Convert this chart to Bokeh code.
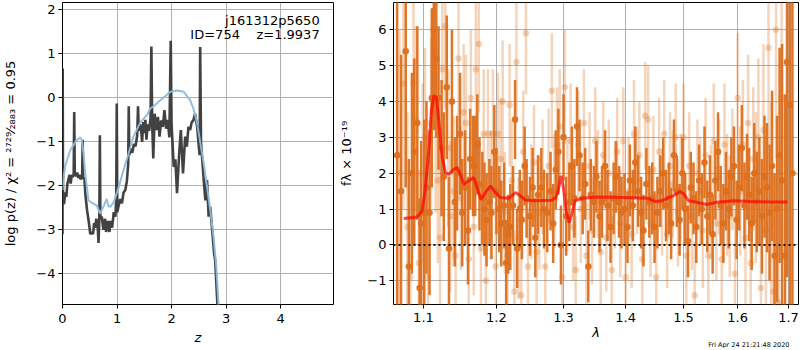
import numpy as np
from bokeh.plotting import figure
from bokeh.layouts import row
from bokeh.models import (ColumnDataSource, Label, Range1d, Span, FixedTicker, Title,
                          PrintfTickFormatter, CustomJSTickFormatter)
from bokeh.embed import file_html
from bokeh.resources import INLINE

FONT = "DejaVu Sans"

# ---------------- left panel: log p(z) ----------------
z_pz = [0.000, 0.003, 0.010, 0.03, 0.05, 0.07, 0.09, 0.11, 0.13, 0.15,
        0.17, 0.19, 0.205, 0.215, 0.225, 0.25, 0.27, 0.29, 0.31, 0.33,
        0.36, 0.37, 0.38, 0.40, 0.42, 0.45, 0.48, 0.51, 0.54, 0.56,
        0.58, 0.60, 0.62, 0.645, 0.66, 0.675, 0.685, 0.695, 0.72, 0.75,
        0.78, 0.80, 0.83, 0.86, 0.88, 0.91, 0.94, 0.97, 0.985, 0.995,
        1.005, 1.03, 1.06, 1.09, 1.12, 1.15, 1.18, 1.205, 1.215, 1.225,
        1.25, 1.28, 1.31, 1.34, 1.37, 1.385, 1.40, 1.42, 1.44, 1.46,
        1.48, 1.50, 1.52, 1.54, 1.56, 1.59, 1.615, 1.63, 1.645, 1.665,
        1.69, 1.72, 1.75, 1.78, 1.81, 1.84, 1.87, 1.90, 1.93, 1.96,
        1.985, 2.00, 2.04, 2.07, 2.10, 2.14, 2.17, 2.21, 2.25, 2.28,
        2.31, 2.34, 2.37, 2.40, 2.43, 2.47, 2.50, 2.515, 2.525, 2.54,
        2.59, 2.62, 2.65, 2.68, 2.71, 2.74, 2.78, 2.80, 2.84, 2.88]
logp_pz = [-3.10, 0.67, -2.40, -2.40, -2.15, -2.25, -1.95, -1.85, -1.75, -1.95,
           -1.75, -1.80, -1.75, -0.32, -1.72, -1.78, -1.70, -1.82, -1.75, -1.85,
           -1.80, -0.95, -1.85, -1.80, -2.20, -2.55, -2.80, -3.10, -3.05, -3.10,
           -2.85, -2.95, -2.75, -2.90, -3.30, -2.80, -0.85, -2.75, -2.70, -3.00,
           -2.75, -3.05, -2.80, -3.05, -2.80, -2.95, -2.60, -2.70, -2.30, -0.13,
           -2.60, -2.45, -2.30, -2.40, -2.15, -2.10, -1.90, -1.50, -0.19, -1.30,
           -1.15, -1.25, -1.05, -1.10, -0.85, -0.19, -0.75, -0.60, -0.70, -1.00,
           -0.55, -0.80, -0.50, -0.95, -0.60, -0.75, -0.45, 1.17, -0.60, -1.38,
           -0.36, -0.73, -0.43, -0.88, -0.51, -0.66, -0.28, -0.70, -0.50, -0.90,
           1.30, -0.60, -1.57, -1.40, -2.17, -1.27, -0.73, -1.72, -0.88, -1.11,
           -0.66, -0.73, -0.55, -0.51, -0.36, -0.66, -1.11, -1.30, 1.16, -1.00,
           -1.87, -2.33, -1.87, -2.70, -2.48, -2.93, -3.54, -3.69, -4.67, -5.60]

z_prior = [0.00, 0.02, 0.05, 0.08, 0.14, 0.20, 0.26, 0.325, 0.355, 0.386,
           0.416, 0.447, 0.477, 0.54, 0.63, 0.69, 0.75, 0.81, 0.84, 0.875,
           0.94, 1.03, 1.12, 1.21, 1.30, 1.43, 1.55, 1.61, 1.67, 1.79,
           1.98, 2.10, 2.22, 2.34, 2.40, 2.47, 2.53, 2.59, 2.65, 2.71,
           2.77, 2.82, 2.86, 2.89]
logp_prior = [-2.10, -1.80, -1.55, -1.43, -1.19, -1.08, -0.96, -0.90, -0.96, -1.27,
              -1.72, -2.03, -2.33, -2.39, -2.45, -2.63, -2.48, -2.30, -2.45, -2.48,
              -2.37, -2.03, -1.64, -1.27, -0.88, -0.55, -0.39, -0.24, -0.19, -0.06,
              0.14, 0.17, 0.14, -0.05, -0.24, -0.58, -1.04, -1.49, -2.02, -2.55,
              -3.16, -3.84, -4.67, -5.40]

z_ticks = [0, 1, 2, 3, 4]
logp_ticks = [-4, -3, -2, -1, 0, 1, 2]

# ---------------- right panel: spectrum ----------------
dark_lam_nm = [1066, 1071, 1077, 1081, 1085, 1088, 1092, 1095, 1097, 1101,
               1104, 1108, 1111, 1114, 1117, 1120, 1124, 1127, 1131, 1134,
               1138, 1142, 1145, 1149, 1152, 1156, 1160, 1163, 1167, 1170,
               1173, 1176, 1180, 1183, 1186, 1190, 1193, 1197, 1200, 1204,
               1207, 1211, 1214, 1217, 1220, 1224, 1227, 1230, 1234, 1237,
               1241, 1244, 1249, 1253, 1257, 1261, 1266, 1270, 1275, 1280,
               1284, 1288, 1292, 1296, 1300, 1304, 1309, 1313, 1317, 1321,
               1325, 1330, 1334, 1339, 1343, 1348, 1352, 1357, 1361, 1366,
               1370, 1375, 1380, 1384, 1389, 1393, 1398, 1403, 1407, 1412,
               1416, 1421, 1426, 1430, 1435, 1440, 1445, 1449, 1454, 1459,
               1464, 1469, 1474, 1478, 1483, 1488, 1493, 1498, 1503, 1508,
               1513, 1518, 1523, 1528, 1533, 1538, 1543, 1548, 1553, 1558,
               1563, 1568, 1573, 1578, 1583, 1588, 1593, 1598, 1603, 1608,
               1613, 1618, 1622, 1627, 1632, 1637, 1642, 1647, 1652, 1657,
               1662, 1667, 1672, 1677, 1682, 1687, 1693, 1697, 1703, 1708]
dark_flux = [2.5, 1.5, 5.4, -0.6, 2.0, 2.6, 3.4, -1.2, 0.6, 0.9,
             1.6, 0.9, 4.1, 6.0, 5.2, 4.1, 2.7, 1.9, 4.4, -0.1,
             4.0, 1.2, 2.0, 3.1, 0.9, 1.6, 0.4, 2.4, 2.2, 2.2,
             2.8, 1.7, 1.3, 1.0, 0.7, 1.2, 0.9, 2.6, 1.5, 1.0,
             0.6, 1.1, -0.5, 0.3, 0.5, 1.1, 3.5, -0.1, 1.0, 0.7,
             2.2, 1.3, 0.8, 1.6, 0.2, 1.4, 1.6, 1.0, 0.9, 1.5,
             0.6, 2.1, 2.6, 0.0, 3.0, 0.8, 1.2, 2.2, 1.3, 3.3,
             2.5, 1.3, 1.7, -0.6, 1.4, 1.2, 1.9, 0.8, 1.2, 2.2,
             1.1, 0.5, 1.3, 1.9, 1.2, 0.9, 1.0, 0.5, 1.8, 1.1,
             2.3, 1.5, 0.9, 0.4, 1.7, 1.2, 1.3, 0.5, 0.9, 1.5,
             2.0, 1.1, 1.3, 0.6, 2.5, 1.5, 0.7, 2.0, 1.0, 0.1,
             1.6, 1.3, 0.5, 1.8, 1.0, 2.3, 0.8, 1.4, 0.3, 1.8,
             2.6, 1.1, 0.6, 1.5, 1.0, 1.9, 2.2, 0.7, 1.6, 2.7,
             1.1, 1.9, 1.4, 0.6, 2.0, 1.2, 1.5, 0.8, 1.9, 1.6,
             0.9, 2.2, -0.3, 1.0, 2.5, 1.8, -0.3, 5.1, 3.9, 2.0]
dark_err = [4.5, 3.8, 3.8, 3.0, 2.8, 2.6, 2.7, 2.5, 2.3, 2.6,
            2.4, 2.3, 2.5, 2.8, 2.2, 2.0, 1.9, 1.8, 2.0, 2.0,
            2.0, 1.8, 1.6, 1.7, 1.5, 1.6, 1.5, 1.4, 1.4, 1.4,
            1.4, 1.3, 1.3, 1.3, 1.3, 1.2, 1.3, 1.3, 1.2, 1.2,
            1.2, 1.2, 1.2, 1.1, 1.2, 1.1, 1.1, 1.1, 1.1, 1.1,
            1.1, 1.1, 1.1, 1.1, 1.1, 1.1, 1.1, 1.1, 1.1, 1.1,
            1.1, 1.1, 1.2, 1.1, 1.2, 1.1, 1.1, 1.1, 1.1, 1.1,
            1.0, 1.0, 1.0, 1.0, 1.0, 1.0, 1.0, 1.0, 1.0, 1.0,
            1.0, 1.0, 1.0, 1.0, 1.0, 1.0, 1.0, 1.0, 1.0, 1.0,
            1.0, 1.0, 1.0, 1.0, 1.0, 1.0, 1.0, 1.0, 1.0, 1.0,
            1.0, 1.0, 1.0, 1.0, 1.0, 1.0, 1.0, 1.0, 1.0, 1.0,
            1.0, 1.0, 1.0, 1.0, 1.0, 1.0, 1.0, 1.1, 1.1, 1.1,
            1.1, 1.1, 1.1, 1.1, 1.1, 1.1, 1.1, 1.1, 1.2, 1.2,
            1.2, 1.2, 1.3, 1.3, 1.4, 1.4, 1.5, 1.6, 1.7, 1.8,
            1.9, 2.1, 2.3, 2.6, 3.0, 3.8, 4.5, 6.0, 8.0, 9.0]

light_lam_nm = [1069, 1074, 1079, 1083, 1087, 1090, 1094, 1099, 1102, 1106,
                1110, 1113, 1116, 1119, 1122, 1125, 1129, 1133, 1136, 1140,
                1143, 1147, 1150, 1154, 1157, 1161, 1164, 1168, 1171, 1175,
                1178, 1182, 1185, 1188, 1192, 1195, 1199, 1202, 1206, 1209,
                1212, 1216, 1219, 1222, 1226, 1229, 1232, 1236, 1239, 1243,
                1246, 1251, 1255, 1259, 1263, 1268, 1272, 1277, 1282, 1286,
                1290, 1294, 1298, 1302, 1306, 1311, 1315, 1319, 1323, 1327,
                1332, 1336, 1341, 1345, 1350, 1354, 1359, 1363, 1368, 1372,
                1377, 1382, 1386, 1391, 1396, 1400, 1405, 1410, 1414, 1419,
                1423, 1428, 1433, 1438, 1442, 1447, 1452, 1457, 1462, 1466,
                1471, 1476, 1481, 1486, 1490, 1495, 1500, 1505, 1510, 1515,
                1520, 1525, 1530, 1535, 1540, 1545, 1550, 1555, 1560, 1565,
                1570, 1575, 1580, 1585, 1590, 1595, 1600, 1605, 1610, 1615,
                1620, 1625, 1630, 1635, 1640, 1645, 1650, 1655, 1660, 1665,
                1670, 1675, 1680, 1686]
light_flux = [2.0, 4.5, 0.5, -0.9, 4.5, 3.5, -0.5, 2.0, 3.0, -0.9,
              3.4, 6.0, 3.3, 1.8, 0.2, 4.9, 6.1, 2.7, 0.8, 1.5,
              -0.3, 5.2, 1.3, 3.7, 3.4, -0.4, 4.1, 0.5, 4.9, 5.6,
              -0.1, 3.1, -1.0, 3.1, 1.4, 3.1, -0.6, 3.1, 2.4, 4.0,
              0.9, -0.3, 3.9, 1.8, -1.3, 5.1, 0.2, -1.4, 2.6, 5.9,
              -0.6, 1.2, 2.3, -0.2, 0.9, 1.9, -0.6, 2.2, 4.3, 1.5,
              2.8, 3.3, -0.9, 4.4, 1.4, 2.9, 0.5, -0.7, 2.8, 1.0,
              3.4, -0.3, 2.2, 0.4, 2.9, 1.7, -0.2, 2.5, 0.2, 2.0,
              -0.7, 1.4, 2.6, 0.6, 2.9, -0.9, 1.5, 0.3, 3.1, 1.8,
              2.5, -0.4, 3.6, 3.5, 0.6, 2.1, -0.9, 2.6, 1.2, 3.1,
              0.3, 2.2, 1.7, 3.0, 0.9, 1.6, 3.0, -0.3, 2.2, 0.8,
              -1.4, 2.0, 1.5, 0.4, 2.5, -0.3, 1.2, 2.9, 0.6, 1.9,
              -0.4, 2.8, 1.4, 0.8, 2.1, -0.8, 4.1, 1.5, 2.8, 0.2,
              3.4, -0.5, 2.4, 1.6, 3.0, -1.2, 3.2, 0.4, 5.5, 1.0,
              -1.3, 6.0, -1.6, 4.1]
light_err = [4.0, 3.5, 3.2, 3.0, 2.8, 2.6, 2.6, 2.5, 2.5, 2.4,
             2.4, 2.4, 2.4, 2.3, 2.2, 2.2, 2.3, 2.2, 2.1, 2.1,
             2.0, 2.0, 2.0, 1.9, 1.9, 1.9, 1.9, 1.9, 1.9, 1.9,
             1.8, 1.8, 1.8, 1.8, 1.8, 1.8, 1.8, 1.7, 1.7, 1.7,
             1.7, 1.7, 1.7, 1.7, 1.7, 1.7, 1.7, 1.7, 1.7, 1.7,
             1.6, 1.6, 1.6, 1.6, 1.6, 1.6, 1.6, 1.6, 1.6, 1.6,
             1.6, 1.6, 1.6, 1.6, 1.6, 1.6, 1.5, 1.5, 1.5, 1.5,
             1.5, 1.5, 1.5, 1.5, 1.5, 1.5, 1.5, 1.5, 1.5, 1.5,
             1.5, 1.5, 1.5, 1.5, 1.5, 1.5, 1.5, 1.5, 1.5, 1.5,
             1.5, 1.5, 1.5, 1.5, 1.5, 1.5, 1.5, 1.5, 1.5, 1.5,
             1.5, 1.5, 1.5, 1.5, 1.5, 1.5, 1.5, 1.5, 1.5, 1.5,
             1.5, 1.5, 1.5, 1.6, 1.6, 1.6, 1.6, 1.6, 1.6, 1.6,
             1.7, 1.7, 1.7, 1.7, 1.7, 1.8, 1.8, 1.8, 1.8, 1.9,
             1.9, 2.0, 2.0, 2.1, 2.2, 2.3, 2.4, 2.6, 2.8, 3.0,
             3.3, 3.6, 4.0, 4.5]

model_lam = [1.0745, 1.0916, 1.0982, 1.1026, 1.1070, 1.1105, 1.1136, 1.1172, 1.1203, 1.1247,
             1.1292, 1.1337, 1.1405, 1.1450, 1.1496, 1.1542, 1.1611, 1.1680, 1.1782, 1.1844,
             1.1915, 1.1987, 1.2058, 1.2178, 1.2276, 1.2349, 1.2422, 1.2546, 1.2819, 1.2880,
             1.2921, 1.2961, 1.2998, 1.3039, 1.3085, 1.3128, 1.3179, 1.3285, 1.3553, 1.3989,
             1.4385, 1.4499, 1.4616, 1.4733, 1.4820, 1.4938, 1.5000, 1.5089, 1.5239, 1.5423,
             1.5608, 1.5922, 1.6241, 1.6640, 1.6980]
model_flux = [0.74, 0.78, 0.95, 1.60, 2.62, 3.74, 4.16, 4.11, 3.46, 2.44,
              2.02, 1.97, 2.11, 2.16, 1.97, 1.69, 1.79, 1.88, 1.27, 1.46,
              1.65, 1.46, 1.32, 1.30, 1.46, 1.37, 1.25, 1.23, 1.25, 1.32,
              1.55, 1.93, 1.60, 0.95, 0.62, 0.86, 1.23, 1.30, 1.34, 1.32,
              1.30, 1.21, 1.23, 1.32, 1.37, 1.49, 1.43, 1.23, 1.19, 1.13,
              1.19, 1.23, 1.21, 1.20, 1.20]

lam_ticks = [1.1, 1.2, 1.3, 1.4, 1.5, 1.6, 1.7]
flux_ticks = [-1, 0, 1, 2, 3, 4, 5, 6]

object_name = "j161312p5650"
object_info = "ID=754\u00a0\u00a0\u00a0\u00a0z=1.9937"
timestamp = "Fri Apr 24 21:21:48 2020"

ORANGE = "#dc6f1e"
MINUS = CustomJSTickFormatter(code="return (tick < 0 ? '\\u2212' : '') + Math.abs(tick).toString();")


def style(p):
    p.outline_line_color = "black"
    p.outline_line_alpha = 1
    p.outline_line_width = 1
    p.background_fill_color = "white"
    p.border_fill_color = "white"
    for ax in (p.xaxis[0], p.yaxis[0]):
        ax.axis_line_color = None
        ax.major_tick_in = 0
        ax.major_tick_out = 4
        ax.major_tick_line_color = "black"
        ax.minor_tick_line_color = None
        ax.major_label_text_font = FONT
        ax.major_label_text_font_size = "13px"
        ax.major_label_text_color = "black"
        ax.major_label_standoff = 3
        ax.axis_label_text_font = FONT
        ax.axis_label_text_font_size = "13px"
        ax.axis_label_text_color = "black"
        ax.axis_label_text_font_style = "normal"
    p.xaxis.axis_label_text_font_style = "italic"
    p.grid.grid_line_color = "#b0b0b0"
    p.grid.grid_line_width = 1


# ---- left figure ----
p1 = figure(frame_width=271, frame_height=302,
            x_range=Range1d(0, 4.97), y_range=Range1d(-4.7, 2.17),
            output_backend="svg", toolbar_location=None,
            min_border_left=62, min_border_right=3, min_border_top=2, min_border_bottom=46)
style(p1)
p1.xaxis.major_label_standoff = 5
p1.xaxis.axis_label_standoff = 4
p1.xaxis.ticker = FixedTicker(ticks=z_ticks)
p1.yaxis.ticker = FixedTicker(ticks=logp_ticks)
p1.yaxis.formatter = MINUS
p1.xaxis.axis_label = "z"
p1.yaxis.axis_label = "log p(z) / \u03c7\u00b2 = \u00b2\u2077\u00b2\u2079\u2044\u2082\u2088\u2088\u2083 = 0.95"
p1.yaxis.axis_label_standoff = 15

p1.line(z_pz, logp_pz, line_color="#383838", line_width=2.6, line_alpha=0.95)
p1.line(z_prior, logp_prior, line_color="#8dbbdc", line_width=2, line_alpha=0.95)

p1.add_layout(Label(x=4.716, y=1.766, text=object_name,
                    text_align="right", text_baseline="middle", text_font=FONT,
                    text_font_size="13px", text_color="black"))
p1.add_layout(Label(x=4.716, y=1.436, text=object_info,
                    text_align="right", text_baseline="middle", text_font=FONT,
                    text_font_size="13px", text_color="black"))

# ---- right figure ----
p2 = figure(frame_width=405, frame_height=302, x_axis_type="log",
            x_range=Range1d(1.0614, 1.7204), y_range=Range1d(-1.66, 6.76),
            output_backend="svg", toolbar_location=None,
            min_border_left=56, min_border_right=3, min_border_top=2, min_border_bottom=44)
style(p2)
p2.xaxis.major_label_standoff = 4
p2.xaxis.axis_label_standoff = 0
p2.xaxis.ticker = FixedTicker(ticks=lam_ticks)
p2.xaxis.formatter = PrintfTickFormatter(format="%.1f")
p2.yaxis.ticker = FixedTicker(ticks=flux_ticks)
p2.yaxis.formatter = MINUS
p2.xaxis.axis_label = "\u03bb"
p2.yaxis.axis_label = "f\u03bb \u00d7 10\u207b\u00b9\u2079"
p2.yaxis.axis_label_standoff = 10

lam_l = np.array(light_lam_nm) / 1000.0
fl_l = np.array(light_flux)
er_l = np.array(light_err)
src_l = ColumnDataSource(dict(x=lam_l, y=fl_l, lo=fl_l - er_l, hi=fl_l + er_l))
lam_d = np.array(dark_lam_nm) / 1000.0
fl_d = np.array(dark_flux)
er_d = np.array(dark_err)
src_d = ColumnDataSource(dict(x=lam_d, y=fl_d, lo=fl_d - er_d, hi=fl_d + er_d))

p2.segment(x0="x", y0="lo", x1="x", y1="hi", source=src_l, line_color=ORANGE,
           line_alpha=0.3, line_width=2.5)
p2.scatter(x="x", y="y", source=src_l, size=6.5, fill_color=ORANGE, fill_alpha=0.3,
           line_color=None)
p2.segment(x0="x", y0="lo", x1="x", y1="hi", source=src_d, line_color=ORANGE,
           line_alpha=0.95, line_width=2.5)
p2.scatter(x="x", y="y", source=src_d, size=6.5, fill_color=ORANGE, fill_alpha=0.95,
           line_color=None)

p2.line(model_lam, model_flux, line_color="red", line_alpha=0.7, line_width=3)
p2.add_layout(Span(location=0, dimension="width", line_color="black", line_alpha=0.9,
                   line_width=2, line_dash="2 3"))

p2.add_layout(Title(text=timestamp, align="right", offset=9, standoff=-12,
                    text_font=FONT, text_font_size="6.5px", text_font_style="normal",
                    text_color="black"), "below")

layout = row(p1, p2)
open("out.html", "w").write(file_html(layout, INLINE))
